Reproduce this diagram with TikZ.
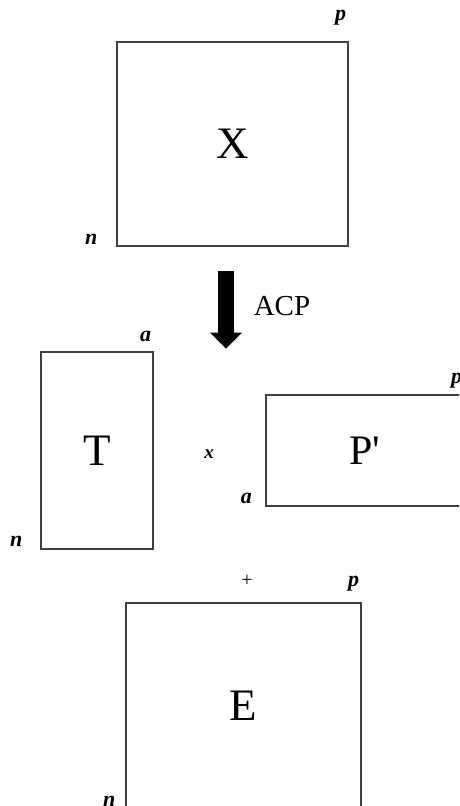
\documentclass[tikz,border=0pt]{standalone}
\usepackage{fontspec}
\setmainfont{Liberation Serif}
\usetikzlibrary{calc,arrows.meta}
\tikzset{
  mat/.style={draw=black!75, line width=1.3pt, inner sep=0pt, font=\fontsize{45}{45}\selectfont},
  dimlbl/.style={font=\fontsize{22}{22}\selectfont\bfseries\itshape, inner sep=0pt},
  oplbl/.style={font=\fontsize{20}{20}\selectfont, inner sep=0pt},
}
\begin{document}
\begin{tikzpicture}[x=1pt, y=-1pt]
  \path[use as bounding box] (0,0) rectangle (459,806);
  \clip (0,0) rectangle (459,806);
  % data matrix
  \node[mat, minimum width=231pt, minimum height=204pt] (X) at (232.5,144) {X};
  \node[dimlbl] (Xp) at ($(X.north east)+(-8,-24)$) {p};
  \node[dimlbl] (Xn) at ($(X.south west)+(-25,-7)$) {n};
  % ACP arrow
  \coordinate (acptop) at ($(X.south)+(-6.5,24)$);
  \coordinate (acptip) at ($(X.south)+(-6.5,102)$);
  \draw[line width=16pt, -{Triangle[width=31pt,length=16pt]}] (acptop) -- (acptip);
  \node[font=\fontsize{29}{29}\selectfont, inner sep=0pt] (acp) at (282,306) {ACP};
  % scores and loadings
  \node[mat, minimum width=112pt, minimum height=197pt] (T) at (97,450.5) {T};
  \node[dimlbl] (Ta) at ($(T.north east)+(-8,-15)$) {a};
  \node[dimlbl] (Tn) at ($(T.south west)+(-24,-8)$) {n};
  \node[dimlbl, font=\fontsize{19}{19}\selectfont\bfseries\itshape] (times) at (209,454) {x};
  \node[mat, minimum width=198pt, minimum height=111pt, font=\fontsize{42}{42}\selectfont] (P) at (365,450.5) {P\textquotesingle};
  \node[dimlbl] (Pa) at ($(P.south west)+(-19,-8)$) {a};
  \node[dimlbl] (Pp) at ($(P.north east)+(-8,-14)$) {p};
  % residuals
  \node[mat, minimum width=235pt, minimum height=205pt] (E) at (243.5,705.5) {E};
  \node[oplbl] (plus) at ($(E.north)+(3.5,-22)$) {+};
  \node[dimlbl] (Ep) at ($(E.north east)+(-8,-19)$) {p};
  \node[dimlbl] (En) at ($(E.south west)+(-16,-7)$) {n};
\end{tikzpicture}
\end{document}
